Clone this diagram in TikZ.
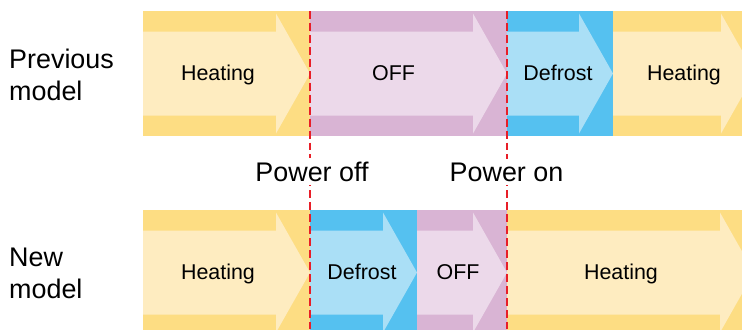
\documentclass[tikz,border=0pt]{standalone}
\usepackage{fontspec}
\setmainfont{Liberation Sans}
\usepackage{tikz}
\usepackage{xcolor}
\definecolor{heatdark}{RGB}{253, 221, 131}
\definecolor{heatlight}{RGB}{254, 236, 192}
\definecolor{offdark}{RGB}{217, 180, 212}
\definecolor{offlight}{RGB}{236, 217, 234}
\definecolor{frostdark}{RGB}{85, 193, 240}
\definecolor{frostlight}{RGB}{170, 223, 246}
\definecolor{cutred}{RGB}{232, 30, 40}

\tikzset{
  stagetext/.style={anchor=base, inner sep=0pt, font=\fontsize{21.5}{26}\selectfont},
  rowlabel/.style={anchor=west, align=left, inner sep=0pt, font=\fontsize{27}{32}\selectfont},
  eventlabel/.style={anchor=base, fill=white, font=\fontsize{27}{32}\selectfont},
  cutline/.style={cutred, line width=1.2pt, dash pattern=on 8pt off 4pt}
}

\begin{document}
\begin{tikzpicture}[x=1bp, y=-1bp]
    \useasboundingbox (0,0) rectangle (742,329);
    \clip (0,0) rectangle (742,329);

    % Previous model - row centre at y=73.5
    \fill[heatdark] (143,11) rectangle (310,136);
    \fill[heatlight] (143,31.5) -- (276,31.5) -- (276,13.5) -- (310,73.5) -- (276,133.5) -- (276,115.5) -- (143,115.5) -- cycle;
    \node[stagetext] (heatA) at (218,80.5) {Heating};

    \fill[offdark] (310,11) rectangle (507,136);
    \fill[offlight] (310,31.5) -- (473,31.5) -- (473,13.5) -- (507,73.5) -- (473,133.5) -- (473,115.5) -- (310,115.5) -- cycle;
    \node[stagetext] (offA) at (393.5,80.5) {OFF};

    \fill[frostdark] (507,11) rectangle (613,136);
    \fill[frostlight] (507,31.5) -- (579,31.5) -- (579,13.5) -- (613,73.5) -- (579,133.5) -- (579,115.5) -- (507,115.5) -- cycle;
    \node[stagetext] (frostA) at (558,80.5) {Defrost};

    \fill[heatdark] (613,11) rectangle (760,136);
    \fill[heatlight] (613,31.5) -- (721,31.5) -- (721,13.5) -- (755,73.5) -- (721,133.5) -- (721,115.5) -- (613,115.5) -- cycle;
    \node[stagetext] (heatA2) at (684,80.5) {Heating};

    % New model - row centre at y=272.5
    \fill[heatdark] (143,210) rectangle (310,335);
    \fill[heatlight] (143,230.5) -- (276,230.5) -- (276,212.5) -- (310,272.5) -- (276,332.5) -- (276,314.5) -- (143,314.5) -- cycle;
    \node[stagetext] (heatB) at (218,279.5) {Heating};

    \fill[frostdark] (310,210) rectangle (417,335);
    \fill[frostlight] (310,230.5) -- (383,230.5) -- (383,212.5) -- (417,272.5) -- (383,332.5) -- (383,314.5) -- (310,314.5) -- cycle;
    \node[stagetext] (frostB) at (362,279.5) {Defrost};

    \fill[offdark] (417,210) rectangle (507,335);
    \fill[offlight] (417,230.5) -- (473,230.5) -- (473,212.5) -- (507,272.5) -- (473,332.5) -- (473,314.5) -- (417,314.5) -- cycle;
    \node[stagetext] (offB) at (458,279.5) {OFF};

    \fill[heatdark] (507,210) rectangle (760,335);
    \fill[heatlight] (507,230.5) -- (720,230.5) -- (720,212.5) -- (754,272.5) -- (720,332.5) -- (720,314.5) -- (507,314.5) -- cycle;
    \node[stagetext] (heatB2) at (621,279.5) {Heating};

    % Row labels
    \node[rowlabel] (prev) at (9,74.7) {Previous\\model};
    \node[rowlabel] (new) at (9,273.7) {New\\model};

    % Power off / power on cuts
    \coordinate (offtop) at (310,11);
    \coordinate (offbot) at (310,329);
    \coordinate (ontop) at (507,11);
    \coordinate (onbot) at (507,329);
    \draw[cutline] (offtop) -- (offbot);
    \draw[cutline] (ontop) -- (onbot);
    \node[eventlabel] (poweroff) at (312,181) {Power off};
    \node[eventlabel] (poweron) at (506.5,181) {Power on};
\end{tikzpicture}
\end{document}
